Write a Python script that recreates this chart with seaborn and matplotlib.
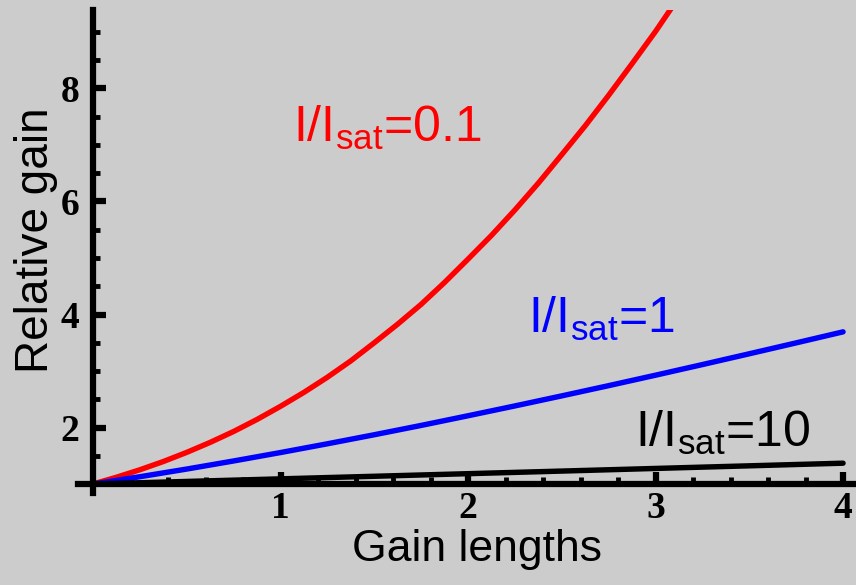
import seaborn as sns
import matplotlib.pyplot as plt
from matplotlib.ticker import FixedLocator, MultipleLocator

# Gain curves
x_q = [0, 0.125, 0.25, 0.375, 0.5, 0.625, 0.75, 0.875, 1, 1.125, 1.25, 1.375, 1.5, 1.625,
       1.75, 1.875, 2, 2.125, 2.25, 2.375, 2.5, 2.625, 2.75, 2.875, 3, 3.125, 3.25]
g_01 = [1, 1.12, 1.252, 1.398, 1.56, 1.737, 1.93, 2.143, 2.375, 2.622, 2.89, 3.18, 3.5, 3.83,
        4.18, 4.568, 4.98, 5.40, 5.85, 6.325, 6.83, 7.34, 7.88, 8.44, 9.01, 9.62, 10.24]

x_b = [0, 0.25, 0.5, 0.75, 1, 1.25, 1.5, 1.75, 2, 2.25, 2.5, 2.75, 3, 3.25, 3.5, 3.75, 4]
g_1 = [1, 1.129, 1.265, 1.408, 1.557, 1.712, 1.872, 2.037, 2.208, 2.382, 2.56,
       2.741, 2.926, 3.114, 3.305, 3.498, 3.693]

x_k = [0, 0.5, 1, 1.5, 2, 2.5, 3, 3.5, 4]
g_10 = [1, 1.0455, 1.0913, 1.137, 1.183, 1.229, 1.2756, 1.322, 1.3686]

labels = [r"I/I$_{\mathregular{sat}}$=0.1", r"I/I$_{\mathregular{sat}}$=1", r"I/I$_{\mathregular{sat}}$=10"]
label_xy = [(1.065, 7.05), (2.32, 3.67), (2.89, 1.655)]
colors = ["#ff0000", "#0000ff", "#000000"]

bg = "#cccccc"
sns.set_theme(style="white", rc={"axes.facecolor": bg, "figure.facecolor": bg,
                                 "text.color": "black"})
plt.rcParams["font.family"] = ["Liberation Sans", "DejaVu Sans"]
plt.rcParams["mathtext.fontset"] = "custom"
plt.rcParams["mathtext.rm"] = "Liberation Sans"

fig = plt.figure(figsize=(8.56, 5.85), dpi=100)
ax = fig.add_axes([78 / 856, 92 / 585, 778 / 856, 483 / 585])

for xs, ys, c in zip([x_q, x_b, x_k], [g_01, g_1, g_10], colors):
    sns.lineplot(x=xs, y=ys, color=c, lw=3.9, ax=ax, legend=False)

ax.set_xlim(-0.08, 4.069)
ax.set_ylim(0.841, 9.389)

for s in ["top", "right"]:
    ax.spines[s].set_visible(False)
ax.spines["left"].set_position(("data", 0))
ax.spines["bottom"].set_position(("data", 1))
for s in ["left", "bottom"]:
    ax.spines[s].set_linewidth(4.5)
    ax.spines[s].set_color("black")

ax.xaxis.set_major_locator(FixedLocator([1, 2, 3, 4]))
ax.xaxis.set_minor_locator(MultipleLocator(0.2))
ax.yaxis.set_major_locator(FixedLocator([2, 4, 6, 8]))
ax.yaxis.set_minor_locator(MultipleLocator(0.5))
ax.tick_params(which="major", direction="in", length=9, width=4.5, color="black")
ax.tick_params(which="minor", direction="in", length=5, width=3.5, color="black")
ax.tick_params(axis="x", which="major", pad=5, bottom=True)
ax.tick_params(axis="y", which="major", pad=10, left=True)
ax.tick_params(axis="both", which="minor", bottom=True, left=True)
for t in ax.get_xticklabels() + ax.get_yticklabels():
    t.set_fontfamily("Liberation Serif")
    t.set_fontweight("bold")
    t.set_fontsize(27)
    t.set_color("black")

for txt, (tx, ty), c in zip(labels, label_xy, colors):
    ax.text(tx, ty, txt, color=c, fontsize=36, ha="left", va="baseline")

fig.text(477 / 856, 1 - 561 / 585, "Gain lengths", fontsize=32, color="black",
         ha="center", va="baseline")
fig.text(58 / 856, 1 - 240 / 585, "Relative gain", fontsize=33, color="black",
         rotation=90, ha="right", va="center")

fig.savefig("out.png", dpi=100, facecolor=bg)
